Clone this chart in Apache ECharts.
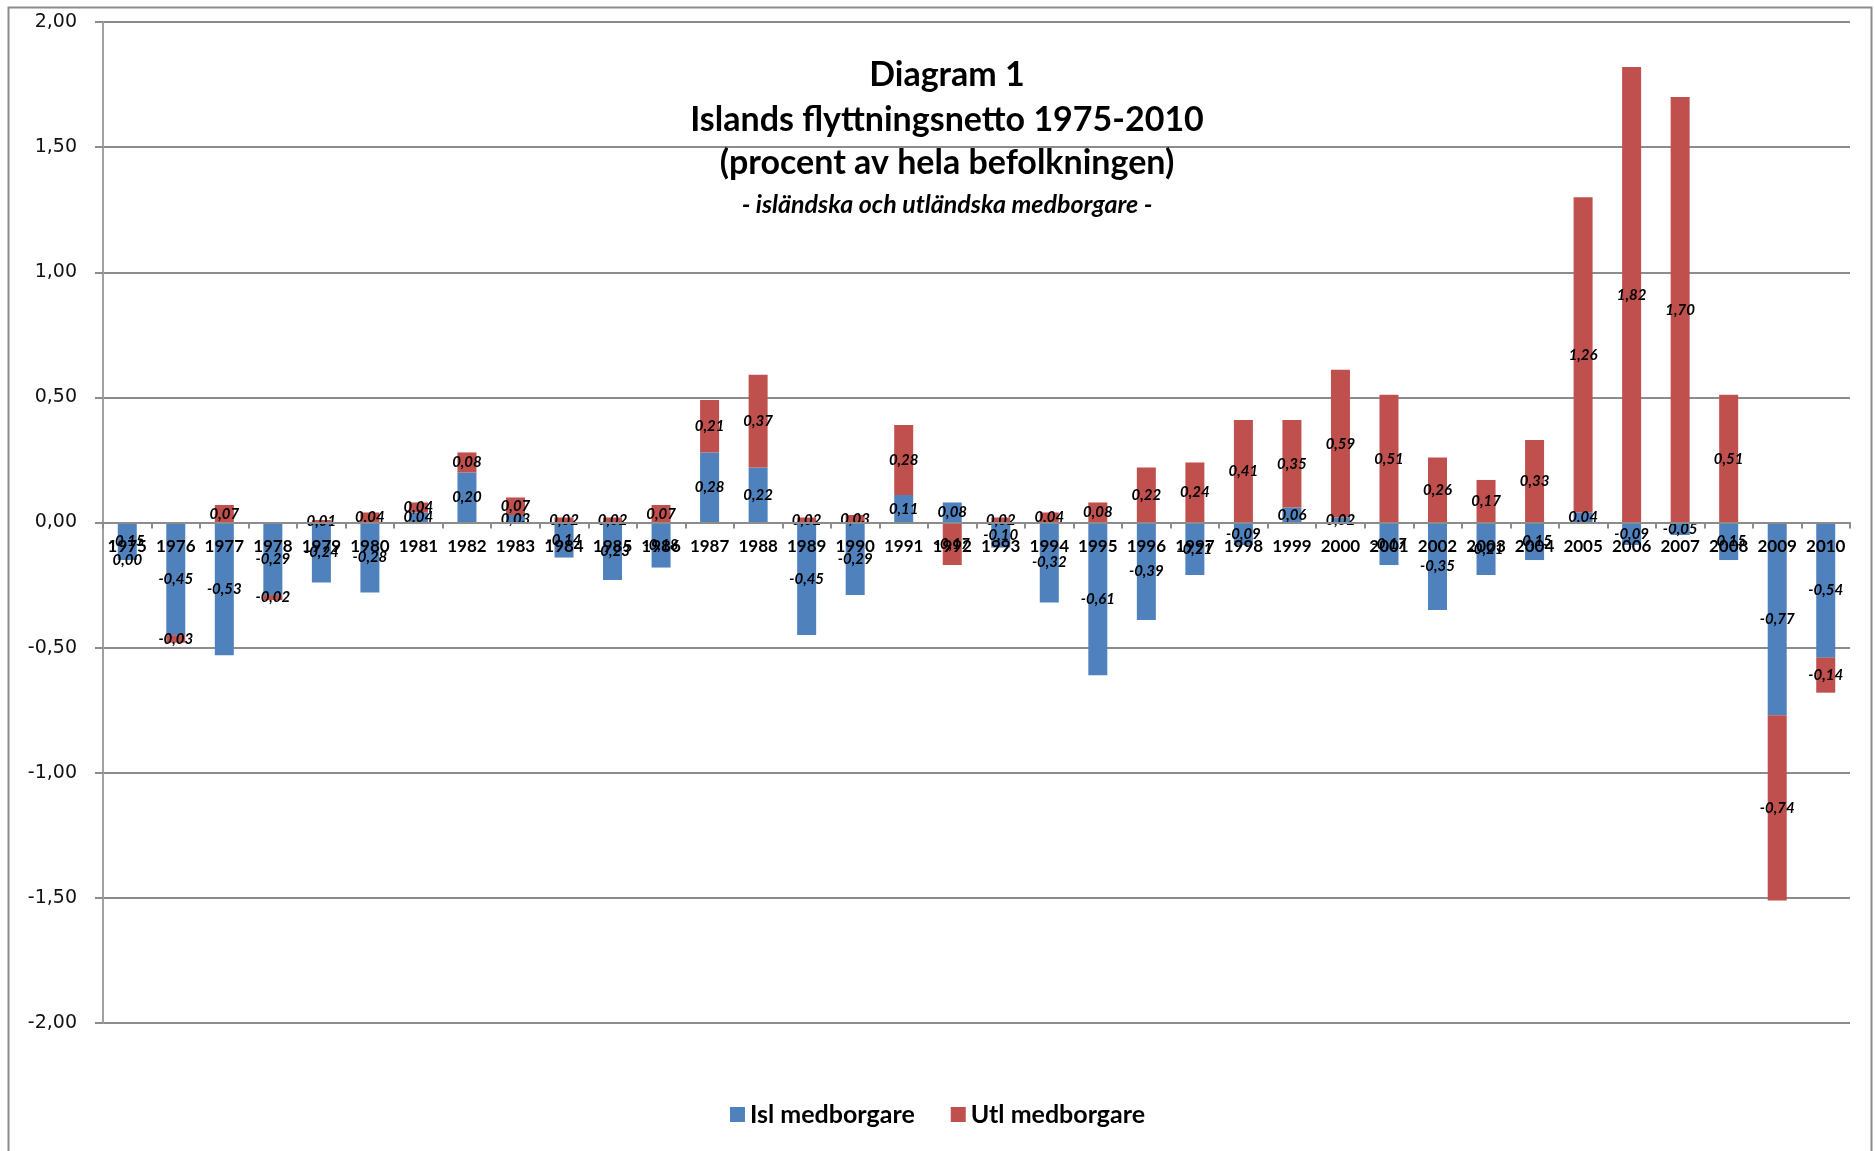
<!DOCTYPE html>
<html>
<head>
<meta charset="utf-8">
<script src="https://cdn.jsdelivr.net/npm/echarts@6/dist/echarts.min.js"></script>
<style>
html,body{margin:0;padding:0;background:#fff;}
#chart{width:1875px;height:1151px;}
</style>
</head>
<body>
<div id="chart"></div>
<script>
const years = ['1975','1976','1977','1978','1979','1980','1981','1982','1983','1984','1985','1986','1987','1988','1989','1990','1991','1992','1993','1994','1995','1996','1997','1998','1999','2000','2001','2002','2003','2004','2005','2006','2007','2008','2009','2010'];
const islMedborgare = [-0.15,-0.45,-0.53,-0.29,-0.24,-0.28,0.04,0.20,0.03,-0.14,-0.23,-0.18,0.28,0.22,-0.45,-0.29,0.11,0.08,-0.10,-0.32,-0.61,-0.39,-0.21,-0.09,0.06,0.02,-0.17,-0.35,-0.21,-0.15,0.04,-0.09,-0.05,-0.15,-0.77,-0.54];
const utlMedborgare = [0.00,-0.03,0.07,-0.02,0.01,0.04,0.04,0.08,0.07,0.02,0.02,0.07,0.21,0.37,0.02,0.03,0.28,-0.17,0.02,0.04,0.08,0.22,0.24,0.41,0.35,0.59,0.51,0.26,0.17,0.33,1.26,1.82,1.70,0.51,-0.74,-0.14];
const yTicks = {min: -2, max: 2, interval: 0.5};
const seriesNames = ['Isl medborgare', 'Utl medborgare'];
const titleLines = ['Diagram 1', 'Islands flyttningsnetto 1975-2010', '(procent av hela befolkningen)'];
const subtitleText = '- isländska och utländska medborgare -';

const fmt = v => v.toFixed(2).replace('.', ',');
const FONT = 'Lato';
const labelStyle = {
  show: true, position: 'inside', color: '#000', fontFamily: FONT,
  fontStyle: 'italic', fontWeight: 'bold', fontSize: 15,
  formatter: p => fmt(p.value)
};
const titleFont = {fontFamily: FONT, fontWeight: 'bold', fontSize: 34, color: '#000'};

const chart = echarts.init(document.getElementById('chart'), null, {renderer: 'canvas'});
chart.setOption({
  animation: false,
  backgroundColor: '#fff',
  title: [
    {text: titleLines[0], left: 942, top: 53, textAlign: 'center', textStyle: titleFont},
    {text: titleLines[1], left: 942, top: 98, textAlign: 'center', textStyle: titleFont},
    {text: titleLines[2], left: 942, top: 141, textAlign: 'center', textStyle: titleFont},
    {text: subtitleText, left: 942, top: 187, textAlign: 'center', textStyle: {fontFamily: FONT, fontWeight: 'bold', fontStyle: 'italic', fontSize: 25, color: '#000'}}
  ],
  graphic: [{
    type: 'rect', left: 6, top: 5, silent: true,
    shape: {x: 0, y: 0, width: 1863, height: 1160},
    style: {fill: 'none', stroke: '#8c8c8c', lineWidth: 2}
  }],
  legend: {
    bottom: 19, left: 'center', itemWidth: 15, itemHeight: 15, itemGap: 36,
    icon: 'rect',
    textStyle: {fontFamily: FONT, fontWeight: 'bold', fontSize: 25, color: '#000'},
    data: seriesNames
  },
  grid: {left: 103, right: 25, top: 22, bottom: 128},
  xAxis: {
    type: 'category', data: years, z: 4,
    axisLine: {onZero: true, lineStyle: {color: '#8c8c8c', width: 2}},
    axisTick: {show: true, length: 6, lineStyle: {color: '#8c8c8c', width: 2}},
    axisLabel: {interval: 0, margin: -485, color: '#000', fontFamily: FONT, fontWeight: 'bold', fontSize: 17}
  },
  yAxis: {
    type: 'value', min: yTicks.min, max: yTicks.max, interval: yTicks.interval,
    axisLine: {show: true, lineStyle: {color: '#a0a0a0', width: 2}},
    axisTick: {show: true, length: 8, lineStyle: {color: '#8c8c8c', width: 2}},
    splitLine: {lineStyle: {color: '#8c8c8c', width: 2}},
    axisLabel: {margin: 26, color: '#111', fontFamily: 'DejaVu Sans', fontSize: 19, formatter: v => fmt(v)}
  },
  series: [
    {name: seriesNames[0], type: 'bar', stack: 'tot', barWidth: 19, data: islMedborgare,
     itemStyle: {color: '#4F81BD'}, label: labelStyle},
    {name: seriesNames[1], type: 'bar', stack: 'tot', barWidth: 19, data: utlMedborgare,
     itemStyle: {color: '#C0504D'}, label: labelStyle}
  ]
});
</script>
</body>
</html>
